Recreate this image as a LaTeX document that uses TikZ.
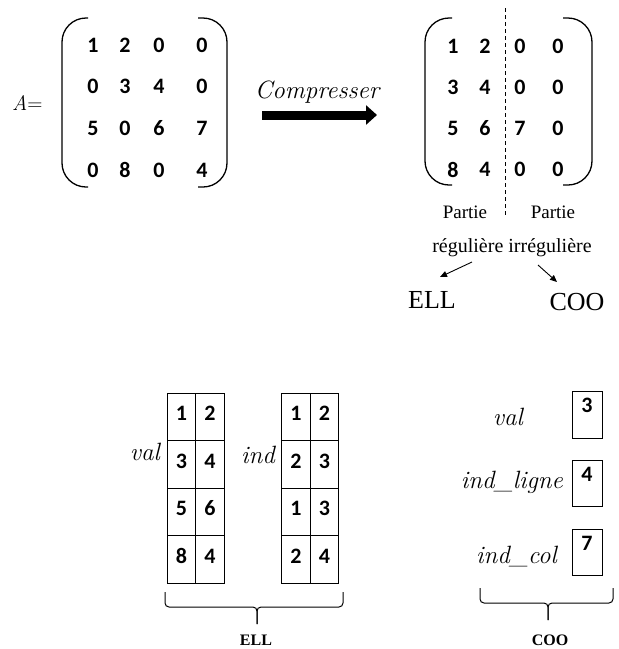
\documentclass[tikz,border=0pt]{standalone}
\usepackage{fontspec}
\usepackage{tikz}
\usetikzlibrary{arrows.meta}
\newfontfamily\digitfont{Carlito}[BoldFont={Carlito Bold}]
\newfontfamily\timesfont{Liberation Serif}

\begin{document}
\begin{tikzpicture}[x=1pt, y=-1pt,
  num/.style={font=\digitfont\bfseries\fontsize{22}{26}\selectfont, inner sep=0pt},
  varname/.style={font=\itshape\fontsize{25}{30}\selectfont, anchor=base east, inner sep=0pt},
  roman/.style={font=\timesfont\fontsize{#1}{#1}\selectfont, anchor=base, inner sep=0pt},
  paren/.style={line width=1.3pt, rounded corners=24pt},
  cell/.style={num, draw, line width=0.9pt, minimum width=28.5pt, minimum height=47.5pt, inner sep=2pt, text height=25pt, text depth=18pt},
  cbox/.style={num, draw, line width=0.9pt, minimum width=30pt, minimum height=46.5pt, inner sep=2pt, text height=19pt, text depth=23.5pt},
  brace/.style={line width=1pt, rounded corners=4pt},
  pointer/.style={line width=0.9pt, -{Triangle[length=7pt, width=6pt]}}]
\useasboundingbox (0,0) rectangle (619,649);

\node[anchor=base west, inner sep=0pt, font=\fontsize{21}{21}\selectfont] (aname) at (12,110) {\textit{A}=};
\draw[paren] (88,18) -- (62,18) -- (62,187) -- (88,187);
\draw[paren] (198,18) -- (227,18) -- (227,187) -- (198,187);
\foreach \p/\q/\r/\s [count=\i] in {1/2/0/0, 0/3/4/0, 5/0/6/7, 0/8/0/4} {
  \node[num] (a\i1) at (93,{3.3+41.7*\i}) {\p};
  \node[num] (a\i2) at (125,{3.3+41.7*\i}) {\q};
  \node[num] (a\i3) at (159,{3.3+41.7*\i}) {\r};
  \node[num] (a\i4) at (202,{3.3+41.7*\i}) {\s};
}

\node[anchor=base, inner sep=0pt, font=\itshape\fontsize{25}{25}\selectfont] (cmp) at (317,98) {Compresser};
\coordinate (cin) at (262,115);
\coordinate (cout) at (377,115);
\draw[line width=9pt, -{Triangle[length=11pt, width=19pt]}] (cin) -- (cout);

\draw[paren] (452,18) -- (425,18) -- (425,185) -- (452,185);
\draw[paren] (563,18) -- (592,18) -- (592,185) -- (563,185);
\foreach \p/\q/\r/\s [count=\i] in {1/2/0/0, 3/4/0/0, 5/6/7/0, 8/4/0/0} {
  \node[num] (b\i1) at (453,{5.5+41*\i}) {\p};
  \node[num] (b\i2) at (485,{5.5+41*\i}) {\q};
  \node[num] (b\i3) at (520,{5.5+41*\i}) {\r};
  \node[num] (b\i4) at (558,{5.5+41*\i}) {\s};
}
\draw[line width=0.8pt, dash pattern=on 4pt off 3pt] (505,8) -- (505,217);

\node[roman=19] (pleft) at (465,218) {Partie};
\node[roman=19] (pright) at (553,218) {Partie};
\node[roman=20] (reg) at (512,252) {régulière irrégulière};
\node[roman=26] (ell) at (432,308) {ELL};
\node[roman=26] (coo) at (577,310) {COO};
\draw[pointer] ([xshift=-40pt, yshift=-10pt]reg.base) -- ([xshift=8pt, yshift=31pt]ell.base);
\draw[pointer] ([xshift=26pt, yshift=-13pt]reg.base) -- ([xshift=-20pt, yshift=28pt]coo.base);

\foreach \a/\b [count=\r] in {1/2, 3/4, 5/6, 8/4} {
  \node[cell] (v\r a) at (181.5,{369.5+47.5*\r}) {\a};
  \node[cell] (v\r b) at (210,{369.5+47.5*\r}) {\b};
}
\foreach \a/\b [count=\r] in {1/2, 2/3, 1/3, 2/4} {
  \node[cell] (d\r a) at (296,{369.5+47.5*\r}) {\a};
  \node[cell] (d\r b) at (324.5,{369.5+47.5*\r}) {\b};
}
\node[varname] (vlab) at (160,460) {val};
\node[varname] (dlab) at (275,463) {ind};
\draw[brace] (165,592) -- (165,607) -- (257,607) -- (257,624);
\draw[brace] (343,592) -- (343,607) -- (257,607) -- (257,624);
\node[roman=16] (ellb) at (256,645) {\textbf{ELL}};

\node[cbox] (c1) at (587,415) {3};
\node[cbox] (c2) at (587,483.5) {4};
\node[cbox] (c3) at (587,552.5) {7};
\node[varname] (clab1) at (523,425) {val};
\node[varname] (clab2) at (563,488) {ind\_ligne};
\node[varname] (clab3) at (557,563) {ind\_col};
\draw[brace] (480,588) -- (480,603) -- (548,603) -- (548,620);
\draw[brace] (613,588) -- (613,603) -- (548,603) -- (548,620);
\node[roman=16] (coob) at (550,645) {\textbf{COO}};
\end{tikzpicture}
\end{document}
